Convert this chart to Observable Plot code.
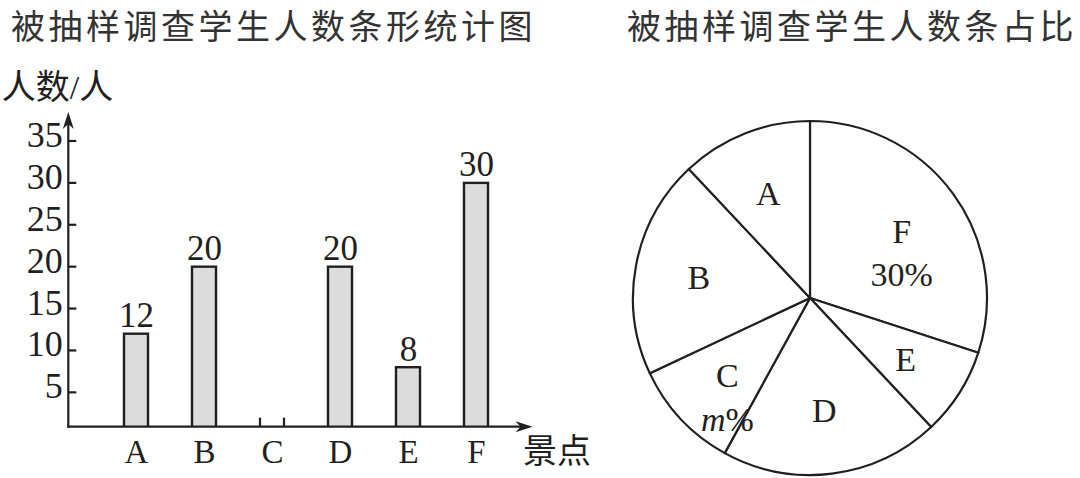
<!DOCTYPE html>
<html><head><meta charset="utf-8">
<script src="https://cdn.jsdelivr.net/npm/d3@7"></script>
<script src="https://cdn.jsdelivr.net/npm/@observablehq/plot@0.6"></script>
<style>
html,body{margin:0;padding:0;background:#fff;}
#wrap{position:relative;width:1080px;height:478px;overflow:hidden;background:#fff;}
.col{position:absolute;top:0;}
.title{height:40px;line-height:normal;font-family:"Noto Sans CJK SC";font-size:34px;letter-spacing:3.5px;color:#333;white-space:nowrap;overflow:visible;}
</style></head><body>
<div id="wrap">
  <div class="col" id="left" style="left:0;width:600px"><div class="title" style="padding-left:11px"><span id="t1"></span></div></div>
  <div class="col" id="right" style="left:600px;width:480px"><div class="title" style="padding-left:27px"><span id="t2"></span></div></div>
</div>
<script>
// ---- data ----
const barTitle = "被抽样调查学生人数条形统计图";
const pieTitle = "被抽样调查学生人数条占比";
const categories = ["A", "B", "C", "D", "E", "F"];
const counts = [12, 20, null, 20, 8, 30];          // C is unknown in the bar chart
const yTicks = [5, 10, 15, 20, 25, 30, 35];
const yLabel = "人数/人";
const xLabel = "景点";
const pieOrder = ["F", "E", "D", "C", "B", "A"];     // clockwise from 12 o'clock
const piePercents = [30, 8, 20, 10, 20, 12];
const pieNotes = ["30%", "", "", "m%", "", ""];

// ---- styles ----
const ink = "#231f20";
const serif = '"Liberation Serif", "Noto Sans CJK SC", serif';

document.getElementById("t1").textContent = barTitle;
document.getElementById("t2").textContent = pieTitle;

const bars = categories.map((c, i) => ({cat: c, n: counts[i]}));
const known = bars.filter(d => d.n != null);

function axesMark(index, scales, values, dim) {
  const {width, height, marginLeft, marginRight, marginTop, marginBottom} = dim;
  const xl = marginLeft, xr = width - marginRight, yb = height - marginBottom, yt = marginTop;
  const g = d3.create("svg:g").attr("fill", "none").attr("stroke", ink).attr("stroke-width", 2.2);
  g.append("line").attr("x1", xl).attr("x2", xl).attr("y1", yb + 1).attr("y2", yt + 8);
  g.append("path").attr("d", `M${xl},${yt}L${xl - 5.5},${yt + 17}L${xl},${yt + 12}L${xl + 5.5},${yt + 17}Z`)
    .attr("fill", ink).attr("stroke", "none");
  g.append("line").attr("x1", xl - 1).attr("x2", xr - 8).attr("y1", yb).attr("y2", yb);
  g.append("path").attr("d", `M${xr},${yb}L${xr - 17},${yb - 5.5}L${xr - 12},${yb}L${xr - 17},${yb + 5.5}Z`)
    .attr("fill", ink).attr("stroke", "none");
  for (const t of yTicks) {
    const y = scales.y(t);
    g.append("line").attr("x1", xl).attr("x2", xl + 8).attr("y1", y).attr("y2", y);
  }
  const bw = typeof scales.x.bandwidth === "function" ? scales.x.bandwidth() : 0;
  bars.forEach(d => {
    if (d.n == null) {
      const x0 = scales.x(d.cat);
      for (const x of [x0, x0 + bw]) {
        g.append("line").attr("x1", x).attr("x2", x).attr("y1", yb).attr("y2", yb - 9);
      }
    }
  });
  return g.node();
}

const left = Plot.plot({
  width: 600, height: 438,
  marginTop: 72, marginBottom: 51.3, marginLeft: 68.3, marginRight: 67.5,
  style: {fontFamily: serif, color: ink, background: "white", overflow: "visible"},
  x: {domain: categories, padding: 0.64, insetLeft: 11, label: null, axis: null},
  y: {domain: [0.9, 38.46], label: null, axis: null},
  marks: [
    Plot.barY(known, {x: "cat", y: "n", fill: "#dcdcdc", stroke: ink, strokeWidth: 2.4, clip: true}),
    Plot.text(known, {x: "cat", y: "n", text: d => String(d.n), lineAnchor: "bottom", dy: -7, fontSize: 35, fill: ink}),
    Plot.text(yTicks, {y: d => d, text: d => String(d), frameAnchor: "left", textAnchor: "end", lineAnchor: "middle", dx: -6, dy: -6, fontSize: 36, fill: ink}),
    Plot.text(categories, {x: d => d, text: d => d, frameAnchor: "bottom", lineAnchor: "middle", dy: 25, fontSize: 33, fill: ink}),
    axesMark,
    Plot.text([yLabel], {text: d => d, frameAnchor: "top-left", textAnchor: "start", lineAnchor: "middle", dx: -67, dy: -24, fontSize: 34, fill: ink}),
    Plot.text([xLabel], {text: d => d, frameAnchor: "bottom-right", textAnchor: "start", lineAnchor: "middle", dx: -10, dy: 25, fontSize: 34, fill: ink})
  ]
});
document.getElementById("left").appendChild(left);

const pieData = pieOrder.map((c, i) => ({cat: c, pct: piePercents[i], note: pieNotes[i]}));

function pieMark(index, scales, values, dim) {
  const {width, height, marginLeft, marginRight, marginTop, marginBottom} = dim;
  const fw = width - marginLeft - marginRight, fh = height - marginTop - marginBottom;
  const cx = marginLeft + fw / 2, cy = marginTop + fh / 2;
  const r = Math.min(fw, fh) / 2 - 1;
  const arcs = d3.pie().sort(null).value(d => d.pct)(pieData);
  const arc = d3.arc().innerRadius(0).outerRadius(r);
  const labelArc = d3.arc().innerRadius(r * 0.64).outerRadius(r * 0.64);
  const g = d3.create("svg:g").attr("transform", `translate(${cx},${cy})`);
  g.selectAll("path").data(arcs).join("path")
    .attr("d", arc).attr("fill", "white").attr("stroke", ink)
    .attr("stroke-width", 2.2).attr("stroke-linejoin", "round");
  const t = g.selectAll("text").data(arcs).join("text")
    .attr("transform", d => `translate(${labelArc.centroid(d)})`)
    .attr("text-anchor", "middle").attr("fill", ink)
    .attr("font-family", serif).attr("font-size", 34);
  t.each(function (d) {
    const el = d3.select(this);
    el.append("tspan").attr("x", 0).attr("y", "0.35em").text(d.data.cat);
    if (d.data.note) {
      const n = el.append("tspan").attr("x", 0).attr("y", "1.62em");
      const m = d.data.note.match(/^([a-z]+)(.*)$/);
      if (m) {
        n.append("tspan").attr("font-style", "italic").text(m[1]);
        n.append("tspan").text(m[2]);
      } else n.text(d.data.note);
    }
  });
  return g.node();
}

const right = Plot.plot({
  width: 480, height: 438,
  marginTop: 80, marginBottom: 2, marginLeft: 32, marginRight: 92,
  style: {background: "white", overflow: "visible"},
  marks: [pieMark]
});
document.getElementById("right").appendChild(right);
</script>
</body></html>
